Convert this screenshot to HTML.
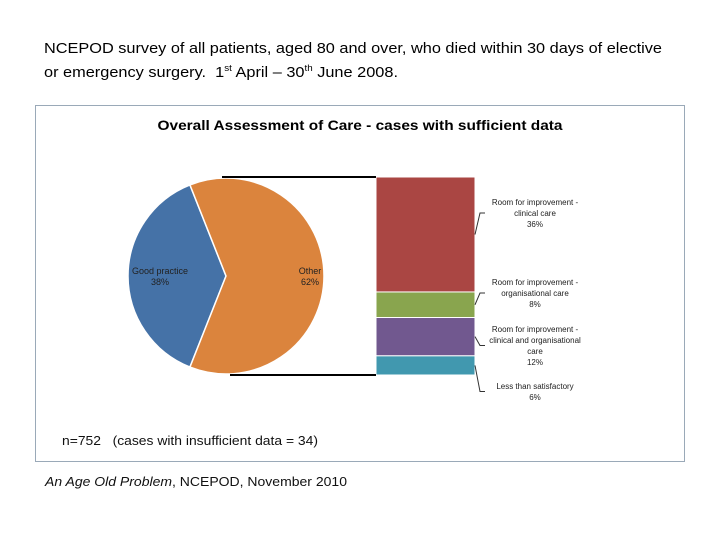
<!DOCTYPE html>
<html><head><meta charset="utf-8"><style>
html,body{margin:0;padding:0;background:#fff;width:720px;height:540px;overflow:hidden}
svg{display:block;font-family:"Liberation Sans",sans-serif}
</style></head><body>
<svg id="chart" width="720" height="540">
<text x="44" y="53" font-size="15" textLength="618" lengthAdjust="spacingAndGlyphs">NCEPOD survey of all patients, aged 80 and over, who died within 30 days of elective</text>
<text x="44" y="77" font-size="15" textLength="354" lengthAdjust="spacingAndGlyphs" style="white-space:pre">or emergency surgery.  1<tspan font-size="9" dy="-6">st</tspan><tspan dy="6"> April – 30</tspan><tspan font-size="9" dy="-6">th</tspan><tspan dy="6"> June 2008.</tspan></text>
<rect x="35.5" y="105.5" width="649" height="356" fill="#fff" stroke="#9aa9b8" stroke-width="1"/>
<text x="360" y="130" font-size="14" font-weight="bold" text-anchor="middle" textLength="405" lengthAdjust="spacingAndGlyphs">Overall Assessment of Care - cases with sufficient data</text>
<g id="plot"></g>
<text x="62" y="445" font-size="13" fill="#111" style="white-space:pre" textLength="256" lengthAdjust="spacingAndGlyphs">n=752   (cases with insufficient data = 34)</text>
<text x="45" y="486" font-size="13" fill="#111" textLength="302" lengthAdjust="spacingAndGlyphs"><tspan font-style="italic">An Age Old Problem</tspan>, NCEPOD, November 2010</text>
</svg>
<script>
const pieLabels = ["Good practice", "Other"];
const pieValues = [38, 62];
const pieColors = ["#4572a7", "#db843d"];
const barLabels = [["Room for improvement -","clinical care"],["Room for improvement -","organisational care"],["Room for improvement -","clinical and organisational","care"],["Less than satisfactory"]];
const barValues = [36, 8, 12, 6];
const barColors = ["#aa4643", "#89a54e", "#71588f", "#4198af"];

(function(){
const NS = "http://www.w3.org/2000/svg";
const g = document.getElementById("plot");
function mk(tag, attrs){const e=document.createElementNS(NS,tag);for(const k in attrs)e.setAttribute(k,attrs[k]);g.appendChild(e);return e;}

const cx=226, cy=276, r=98;
const pieTotal = pieValues.reduce((a,b)=>a+b,0);
let start = Math.PI - (pieValues[0]/pieTotal)*Math.PI;
const labelPos = [[160,274],[310,274]];
pieValues.forEach((v,i)=>{
  const sweep = v/pieTotal*2*Math.PI;
  const a0=start, a1=start+sweep;
  const x0=cx+r*Math.cos(a0), y0=cy-r*Math.sin(a0);
  const x1=cx+r*Math.cos(a1), y1=cy-r*Math.sin(a1);
  const large = sweep>Math.PI?1:0;
  const p = mk("path",{d:`M${cx},${cy} L${x0},${y0} A${r},${r} 0 ${large} 0 ${x1},${y1} Z`,fill:pieColors[i],stroke:"#fff","stroke-width":1.5});
  
  
  const lp = labelPos[i];
  const t = mk("text",{x:lp[0],y:lp[1],"font-size":9,"text-anchor":"middle",fill:"#222"});
  
  
  t.innerHTML = `<tspan x="${lp[0]}">${pieLabels[i]}</tspan><tspan x="${lp[0]}" dy="11">${v}%</tspan>`;
  start = a1;
});

const bx=376, bw=99, barTop=177, bh=198;
const barTotal = barValues.reduce((a,b)=>a+b,0);
let y = barTop;
const lblY = [205, 285, 332, 389];
barValues.forEach((v,i)=>{
  const h = v/barTotal*bh;
  const rc = mk("rect",{x:bx,y:y,width:bw,height:h,fill:barColors[i],stroke:"#fff","stroke-width":1});
  
  
  const mid = y+h/2;
  const ly = lblY[i];
  const lines = barLabels[i].concat([v+"%"]);
  const t = mk("text",{x:535,y:ly,"font-size":8,"text-anchor":"middle",fill:"#222"});
  
  
  t.innerHTML = lines.map((s,k)=>`<tspan x="535" dy="${k?11:0}">${s}</tspan>`).join("");
  const lyMid = ly + (lines.length-1)*11/2 - 3;
  const ln = mk("polyline",{points:`${bx+bw},${mid} ${bx+bw+5},${lyMid} ${bx+bw+10},${lyMid}`,fill:"none",stroke:"#333","stroke-width":1});
  
  
  y += h;
});

const c1 = mk("line",{x1:222,y1:barTop,x2:bx,y2:barTop,stroke:"#000","stroke-width":2});


const c2 = mk("line",{x1:230,y1:barTop+bh,x2:bx,y2:barTop+bh,stroke:"#000","stroke-width":2});


})();
</script>
</body></html>
